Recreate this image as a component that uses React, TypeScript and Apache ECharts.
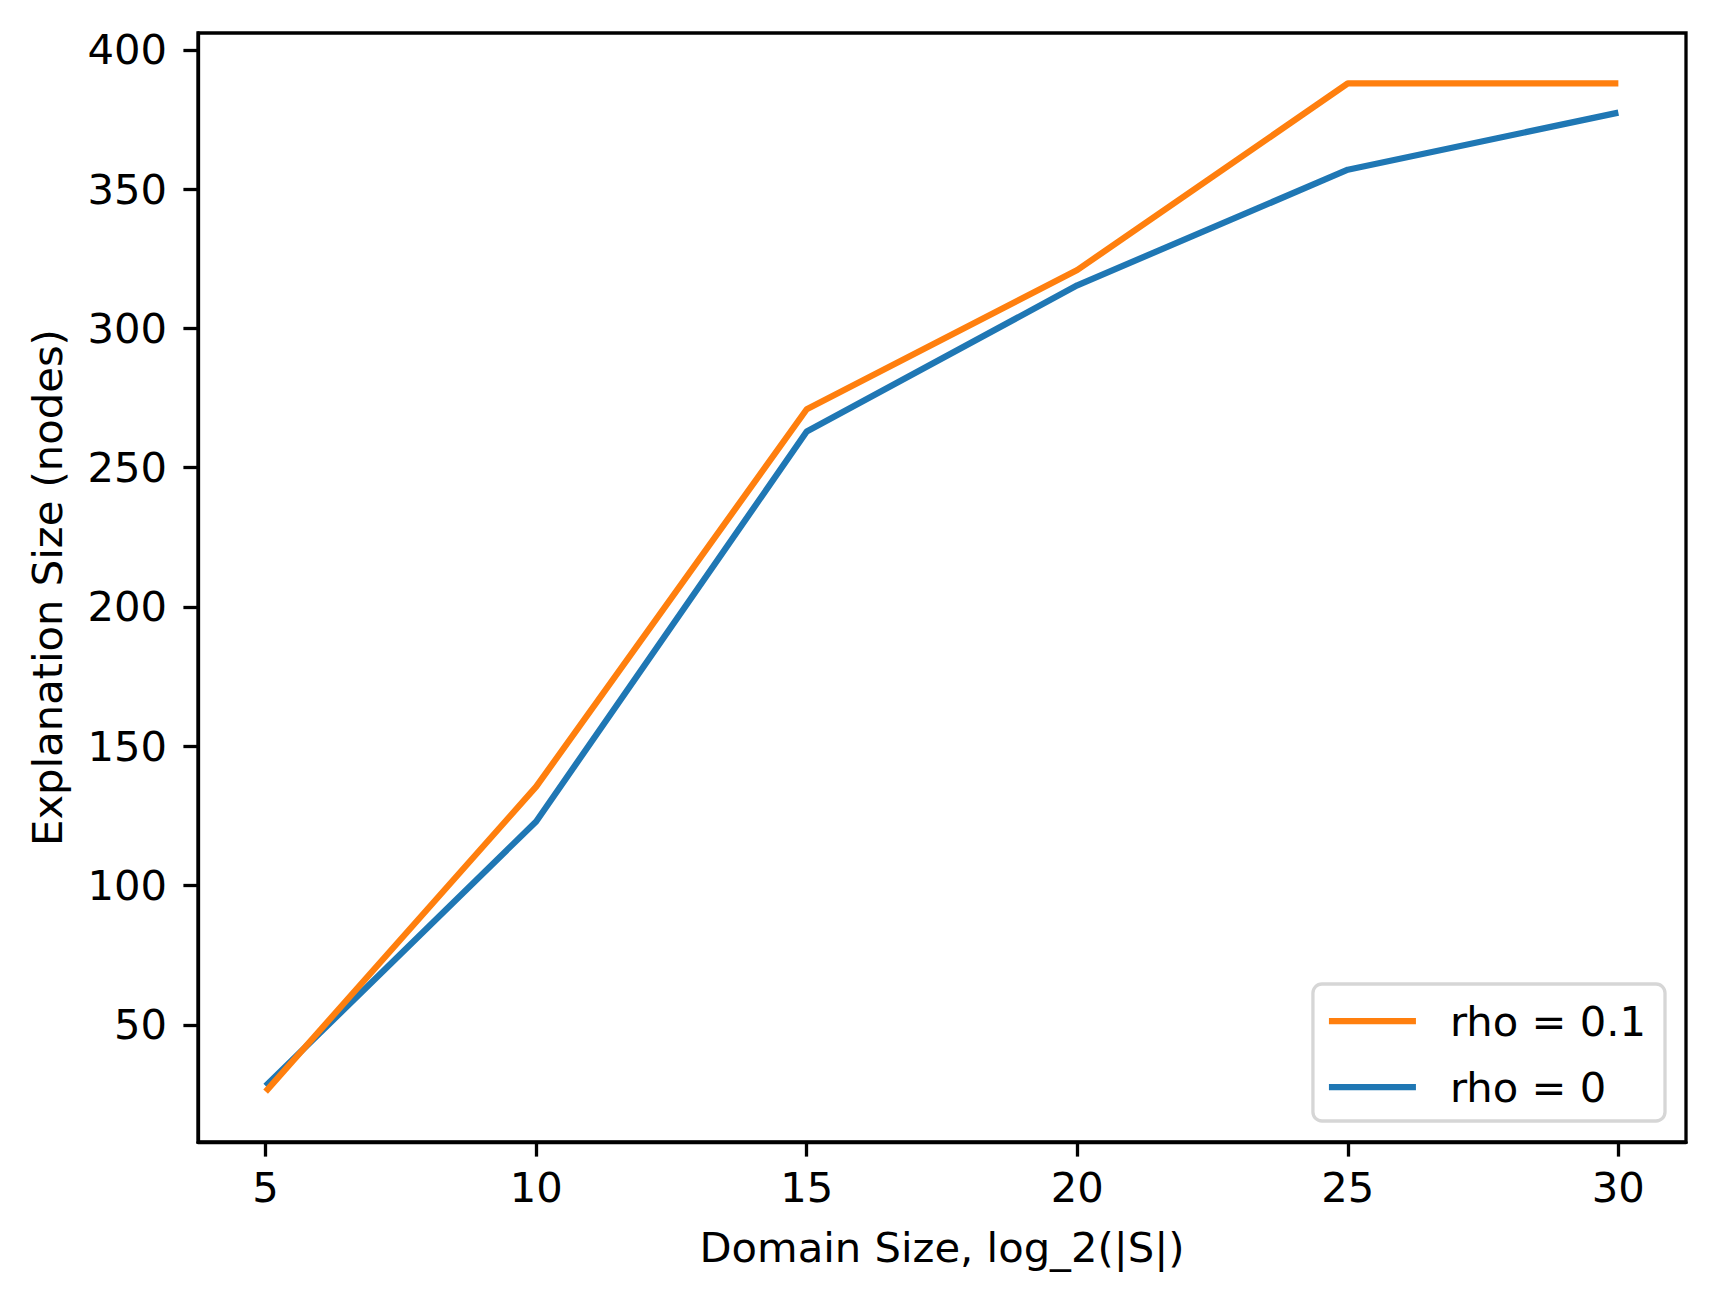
import React, { useEffect, useRef } from "react";
import * as echarts from "echarts";

const xValues = [5, 10, 15, 20, 25, 30];
const rho01 = [26, 135.5, 271, 321, 388, 388];
const rho0 = [28, 123, 263, 315.5, 357, 377.5];
const xTicks = [5, 10, 15, 20, 25, 30];
const yTicks = [50, 100, 150, 200, 250, 300, 350, 400];
const seriesNames = ["rho = 0.1", "rho = 0"];

const FONT = "DejaVu Sans";
const FS = 41.7;

export default function App() {
  const ref = useRef<HTMLDivElement>(null);
  useEffect(() => {
    document.body.style.margin = "0";
    const chart = echarts.init(ref.current!, null, { renderer: "svg" });
    const axisCommon = {
      axisLine: { show: true, lineStyle: { color: "#000", width: 3.3 } },
      axisTick: { show: true, length: 14.6, lineStyle: { color: "#000", width: 3.3 } },
      splitLine: { show: false },
    };
    chart.setOption({
      animation: false,
      backgroundColor: "#fff",
      textStyle: { fontFamily: FONT },
      grid: {
        left: 198,
        right: 32,
        top: 33,
        bottom: 161,
        show: true,
        borderColor: "#000",
        borderWidth: 3.3,
        containLabel: false,
        outerBoundsMode: "none",
      },
      xAxis: {
        type: "value",
        min: 3.75,
        max: 31.25,
        ...axisCommon,
        axisTick: { ...axisCommon.axisTick, customValues: xTicks },
        axisLabel: {
          customValues: xTicks,
          margin: 24,
          fontSize: FS,
          fontFamily: FONT,
          color: "#000",
        },
        name: "Domain Size, log_2(|S|)",
        nameLocation: "middle",
        nameGap: 84,
        nameTextStyle: { fontSize: FS, fontFamily: FONT, color: "#000" },
      },
      yAxis: {
        type: "value",
        min: 7.9,
        max: 406.1,
        ...axisCommon,
        axisTick: { ...axisCommon.axisTick, customValues: yTicks },
        axisLabel: {
          customValues: yTicks,
          margin: 31,
          fontSize: FS,
          fontFamily: FONT,
          color: "#000",
        },
        name: "Explanation Size (nodes)",
        nameLocation: "middle",
        nameGap: 130,
        nameTextStyle: { fontSize: FS, fontFamily: FONT, color: "#000" },
      },
      legend: {
        data: seriesNames,
        orient: "vertical",
        right: 53,
        bottom: 182,
        icon: "rect",
        itemWidth: 87,
        itemHeight: 6.25,
        itemGap: 18,
        padding: [13, 19, 10, 16],
        backgroundColor: "rgba(255,255,255,0.8)",
        borderColor: "#d6d6d6",
        borderWidth: 3.3,
        borderRadius: 9,
        textStyle: {
          fontSize: FS,
          fontFamily: FONT,
          color: "#000",
          lineHeight: 48,
          padding: [0, 0, 0, 29],
        },
      },
      series: [
        {
          name: seriesNames[1],
          type: "line",
          data: xValues.map((x, i) => [x, rho0[i]]),
          showSymbol: false,
          symbol: "none",
          lineStyle: { color: "#1f77b4", width: 6.25, cap: "butt", join: "round" },
          itemStyle: { color: "#1f77b4" },
        },
        {
          name: seriesNames[0],
          type: "line",
          data: xValues.map((x, i) => [x, rho01[i]]),
          showSymbol: false,
          symbol: "none",
          lineStyle: { color: "#ff7f0e", width: 6.25, cap: "butt", join: "round" },
          itemStyle: { color: "#ff7f0e" },
        },
      ],
    });
    return () => chart.dispose();
  }, []);
  return <div ref={ref} style={{ width: 1718, height: 1303 }} />;
}
